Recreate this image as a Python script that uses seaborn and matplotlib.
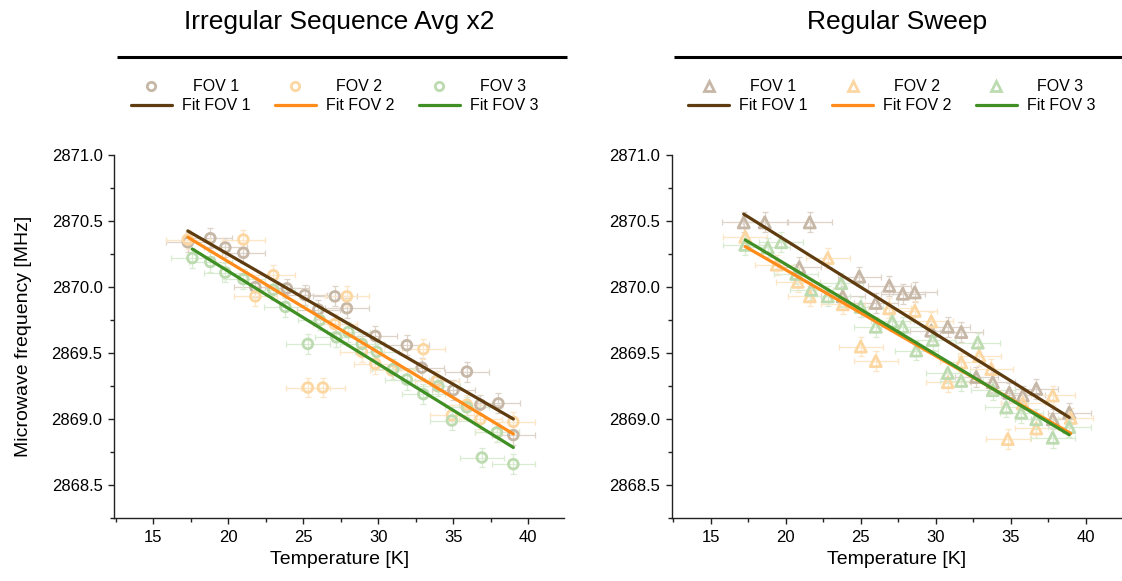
import numpy as np
import pandas as pd
import matplotlib
matplotlib.use('Agg')
import matplotlib.pyplot as plt
import seaborn as sns
from matplotlib.lines import Line2D
from matplotlib.ticker import MultipleLocator, FormatStrFormatter

# Valeurs : temperature [K] et frequence [MHz]
irr_T1 = [17.3, 18.8, 19.8, 21.0, 21.8, 23.9, 25.1, 26.0, 27.1, 27.9, 29.8, 31.9, 32.9, 33.9, 35.0, 35.9, 36.8, 38.0, 39.0]
irr_F1 = [2870.34, 2870.37, 2870.30, 2870.26, 2870.00, 2869.99, 2869.94, 2869.83, 2869.93, 2869.84,
          2869.63, 2869.56, 2869.39, 2869.29, 2869.22, 2869.36, 2869.11, 2869.12, 2868.88]
irr_T2 = [17.3, 21.0, 21.8, 23.0, 25.3, 26.3, 27.1, 27.9, 28.9, 29.8, 30.9, 33.0, 33.9, 34.9, 35.9, 36.8, 37.9, 39.0]
irr_F2 = [2870.36, 2870.36, 2869.93, 2870.09, 2869.24, 2869.24, 2869.72, 2869.93, 2869.51, 2869.42,
          2869.37, 2869.53, 2869.29, 2869.03, 2869.11, 2869.00, 2868.90, 2868.98]
irr_T3 = [17.6, 18.8, 19.8, 21.0, 23.0, 23.8, 25.3, 26.1, 27.2, 28.0, 28.9, 29.9, 31.0, 31.9, 33.0, 34.0,
          34.9, 35.9, 36.9, 37.9, 39.0]
irr_F3 = [2870.22, 2870.19, 2870.11, 2870.06, 2869.98, 2869.85, 2869.57, 2869.75, 2869.62, 2869.66,
          2869.57, 2869.51, 2869.38, 2869.30, 2869.19, 2869.25, 2868.99, 2869.09, 2868.71, 2868.90, 2868.66]

reg_T1 = [17.2, 18.6, 20.9, 21.6, 23.8, 24.9, 26.0, 26.9, 27.8, 28.6, 29.7, 30.8, 31.7, 32.7, 33.8, 34.9,
          35.8, 36.7, 37.8, 38.9]
reg_F1 = [2870.49, 2870.49, 2870.15, 2870.49, 2869.93, 2870.08, 2869.88, 2870.01, 2869.95, 2869.96,
          2869.67, 2869.70, 2869.66, 2869.32, 2869.28, 2869.20, 2869.18, 2869.23, 2869.00, 2869.05]
reg_T2 = [17.3, 19.4, 20.8, 21.6, 22.8, 23.8, 25.0, 26.0, 26.9, 28.6, 29.7, 30.8, 31.7, 32.9, 33.7, 34.8,
          35.8, 36.7, 37.8, 39.0]
reg_F2 = [2870.38, 2870.17, 2870.04, 2869.93, 2870.22, 2869.87, 2869.55, 2869.44, 2869.84, 2869.82,
          2869.74, 2869.28, 2869.43, 2869.48, 2869.38, 2868.85, 2869.12, 2868.93, 2869.18, 2869.01]
reg_T3 = [17.3, 18.8, 19.7, 20.7, 21.7, 22.8, 23.7, 25.0, 26.0, 27.1, 27.8, 28.7, 29.8, 30.8, 31.7, 32.8,
          33.8, 34.7, 35.7, 36.7, 37.8, 38.9]
reg_F3 = [2870.32, 2870.30, 2870.34, 2870.10, 2869.98, 2869.93, 2870.03, 2869.85, 2869.70, 2869.74,
          2869.70, 2869.52, 2869.60, 2869.35, 2869.29, 2869.58, 2869.22, 2869.09, 2869.05, 2869.00,
          2868.86, 2868.94]

# Ajustements lineaires F = a*T + b (pentes / ordonnees lues)
irr_slope = [-0.0656, -0.0686, -0.0702]
irr_icpt = [2871.560, 2871.564, 2871.524]
reg_slope = [-0.0709, -0.0652, -0.0683]
reg_icpt = [2871.772, 2871.435, 2871.539]

T_err = 1.45
F_err = 0.075

labels = ['FOV 1', 'FOV 2', 'FOV 3']
fit_labels = ['Fit FOV 1', 'Fit FOV 2', 'Fit FOV 3']
pt_colors = ['#c6b7a6', '#fcd7a2', '#bddbb0']
err_colors = ['#ddd3c8', '#fde6c6', '#d9ebd1']
fit_colors = ['#5e3c10', '#ff8c1a', '#3f8f24']

sns.set_theme(style="ticks")
plt.rcParams['font.family'] = ['Liberation Sans', 'DejaVu Sans']
plt.rcParams['text.color'] = 'black'
plt.rcParams['axes.labelcolor'] = 'black'

fig = plt.figure(figsize=(11.22, 5.81), dpi=100)
ax1 = fig.add_axes([0.1019, 0.1079, 0.4011, 0.6253])
ax2 = fig.add_axes([0.5987, 0.1079, 0.4011, 0.6253])

panels = [
    (ax1, 'Irregular Sequence Avg x2', 'o', 7,
     [(irr_T1, irr_F1), (irr_T2, irr_F2), (irr_T3, irr_F3)], irr_slope, irr_icpt),
    (ax2, 'Regular Sweep', '^', 8,
     [(reg_T1, reg_F1), (reg_T2, reg_F2), (reg_T3, reg_F3)], reg_slope, reg_icpt),
]

for ax, title, mk, ms, series, slopes, icpts in panels:
    for i, (T, F) in enumerate(series):
        ax.errorbar(T, F, xerr=T_err, yerr=F_err, fmt='none', ecolor=err_colors[i],
                    elinewidth=0.9, capsize=2, capthick=0.9, zorder=1)
    for i, (T, F) in enumerate(series):
        df = pd.DataFrame({'T': T, 'F': F})
        sns.scatterplot(data=df, x='T', y='F', ax=ax, marker=mk, s=ms ** 2,
                        facecolors='none', edgecolor=pt_colors[i], color=pt_colors[i],
                        linewidth=2.0, zorder=2, legend=False)
    for i, (T, F) in enumerate(series):
        t = np.array([min(T), max(T)])
        fit = pd.DataFrame({'T': t, 'F': slopes[i] * t + icpts[i]})
        sns.lineplot(data=fit, x='T', y='F', ax=ax, color=fit_colors[i], lw=2.3, zorder=3)

    ax.set_xlim(12.4, 42.4)
    ax.set_ylim(2868.25, 2871.0)
    ax.xaxis.set_major_locator(MultipleLocator(5))
    ax.xaxis.set_minor_locator(MultipleLocator(2.5))
    ax.yaxis.set_major_locator(MultipleLocator(0.5))
    ax.yaxis.set_minor_locator(MultipleLocator(0.25))
    ax.yaxis.set_major_formatter(FormatStrFormatter('%.1f'))
    sns.despine(ax=ax)
    for s in ['left', 'bottom']:
        ax.spines[s].set_color('#222222')
        ax.spines[s].set_linewidth(1.0)
    ax.tick_params(which='major', direction='out', length=4.5, width=1, labelsize=12,
                   color='#222222', labelcolor='black', pad=4)
    ax.tick_params(which='minor', direction='out', length=3, width=1, color='#222222')
    ax.set_xlabel('Temperature [K]', fontsize=14, labelpad=4)
    ax.set_ylabel('')

    ax.text(0.5, 1.366, title, transform=ax.transAxes, ha='center', va='center', fontsize=19)
    ax.plot([0.006, 1.006], [1.269, 1.269], transform=ax.transAxes, clip_on=False,
            color='black', lw=2.2, solid_capstyle='butt')

    mk_handles = [Line2D([], [], ls='none', marker=mk, mfc='none', mec=pt_colors[i],
                         ms=6 if mk == 'o' else 6.5, mew=2) for i in range(3)]
    fit_handles = [Line2D([], [], color=fit_colors[i], lw=2.3) for i in range(3)]
    leg1 = ax.legend(mk_handles, labels, loc='center left', bbox_to_anchor=(0.037, 1.188),
                     ncol=3, frameon=False, fontsize=11.5, borderpad=0, borderaxespad=0,
                     handlelength=2.56, handletextpad=1.3, columnspacing=2.25)
    ax.add_artist(leg1)
    ax.legend(fit_handles, fit_labels, loc='center left', bbox_to_anchor=(0.037, 1.135),
              ncol=3, frameon=False, fontsize=11.5, borderpad=0, borderaxespad=0,
              handlelength=2.56, handletextpad=0.63, columnspacing=1.53)

ax1.set_ylabel('Microwave frequency [MHz]', fontsize=14, labelpad=14)

fig.savefig('out.png', dpi=100)
plt.close()
